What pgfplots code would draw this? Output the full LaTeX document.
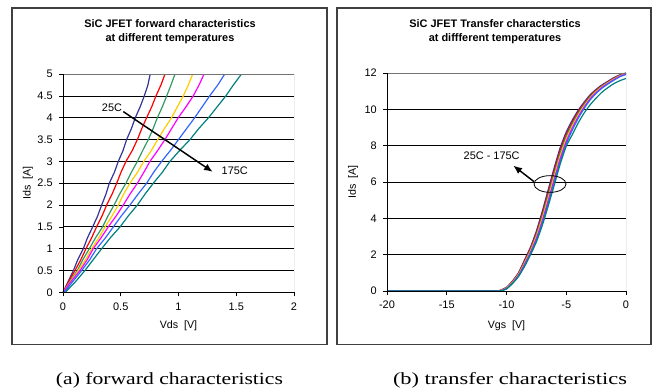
\documentclass[border=0pt]{standalone}
\usepackage{pgfplots}
\pgfplotsset{compat=1.18}
\usepackage{pgfplotstable}
\usepackage{graphicx}
\usepackage{fontspec}
\setmainfont{Liberation Sans}
\newfontfamily\serifcap{Liberation Serif}
\usetikzlibrary{arrows.meta}

\definecolor{cnavy}{RGB}{51,51,153}
\definecolor{cred}{RGB}{255,0,0}
\definecolor{cgreen}{RGB}{51,153,102}
\definecolor{cgold}{RGB}{255,204,0}
\definecolor{cmag}{RGB}{255,0,255}
\definecolor{cblue}{RGB}{51,102,255}
\definecolor{cteal}{RGB}{0,128,128}

\pgfplotstableread{
I    v0    v1    v2    v3    v4    v5    v6
0    0     0     0     0     0     0.01  0.02
0.25 0.045 0.05  0.06  0.065 0.07  0.085 0.11
0.5  0.09  0.104 0.124 0.133 0.147 0.162 0.19
0.75 0.128 0.155 0.172 0.195 0.21  0.232 0.262
1    0.176 0.199 0.228 0.248 0.262 0.291 0.335
1.25 0.212 0.248 0.282 0.31  0.33  0.368 0.41
1.5  0.257 0.291 0.343 0.364 0.392 0.436 0.494
1.75 0.3   0.338 0.39  0.425 0.46  0.505 0.565
2    0.335 0.378 0.442 0.479 0.522 0.58  0.644
2.25 0.372 0.425 0.49  0.525 0.58  0.65  0.71
2.5  0.401 0.465 0.545 0.58  0.644 0.724 0.782
2.75 0.445 0.502 0.592 0.645 0.7   0.785 0.86
3    0.479 0.545 0.644 0.70  0.753 0.854 0.926
3.25 0.52  0.6   0.69  0.765 0.82  0.93  1.01
3.5  0.551 0.644 0.739 0.82  0.883 1.0   1.1
3.75 0.592 0.682 0.78  0.878 0.94  1.07  1.175
4    0.626 0.724 0.817 0.94  0.998 1.14  1.26
4.25 0.668 0.768 0.86  0.99  1.065 1.205 1.335
4.5  0.704 0.805 0.898 1.042 1.128 1.27  1.41
4.75 0.735 0.848 0.935 1.085 1.178 1.34  1.475
5    0.755 0.883 0.97  1.123 1.221 1.40  1.545
}\fwd

\pgfplotstableread{
V     i0    i1    i2    i3    i4    i5    i6
-20   0     0     0     0     0     0     0
-11   0     0     0     0     0     0     0
-10.5 0.05  0.04  0.03  0.02  0.01  0     0
-10   0.2   0.19  0.17  0.16  0.14  0.13  0.11
-9.5  0.55  0.53  0.50  0.48  0.45  0.43  0.41
-9    1.0   0.97  0.93  0.90  0.86  0.83  0.79
-8.5  1.7   1.64  1.58  1.52  1.46  1.40  1.34
-8    2.4   2.33  2.26  2.19  2.12  2.05  1.98
-7.5  3.3   3.2   3.1   3.0   2.9   2.8   2.7
-7    4.4   4.27  4.14  4.01  3.88  3.75  3.62
-6.5  5.6   5.45  5.3   5.15  5.0   4.85  4.7
-6    6.8   6.64  6.48  6.32  6.16  6.0   5.84
-5.5  7.9   7.75  7.6   7.45  7.3   7.15  7.0
-5    8.75  8.62  8.49  8.36  8.23  8.1   7.97
-4.5  9.4   9.29  9.18  9.07  8.96  8.85  8.6
-4    9.95  9.86  9.77  9.68  9.59  9.5   9.25
-3.5  10.4  10.33 10.26 10.19 10.12 10.05 9.8
-3    10.8  10.74 10.69 10.63 10.58 10.52 10.25
-2.5  11.1  11.06 11.01 10.97 10.92 10.88 10.62
-2    11.35 11.31 11.28 11.24 11.21 11.17 10.95
-1.5  11.55 11.52 11.49 11.46 11.43 11.4  11.2
-1    11.75 11.72 11.69 11.67 11.64 11.61 11.42
-0.5  11.9  11.88 11.86 11.84 11.82 11.8  11.58
0     12.0  11.98 11.97 11.95 11.94 11.92 11.7
}\trf

\pgfplotsset{
  chart/.style={
    scale only axis,
    axis line style={draw=none},
    tick align=outside,
    xtick pos=bottom, ytick pos=left,
    major tick length=3pt,
    tick style={black, line width=0.5pt},
    ymajorgrids,
    grid style={black, line width=0.55pt},
    ticklabel style={font=\fontsize{8.2}{10}\selectfont},
    label style={font=\fontsize{8}{10}\selectfont},
    /pgf/number format/assume math mode=true,
    yticklabel style={xshift=-1.2pt},
    xticklabel style={yshift=-1.2pt},
    every axis plot/.append style={line width=0.9pt, no markers},
  }
}

\begin{document}
\begin{tikzpicture}
\path[use as bounding box] (0,0) rectangle (492pt,291.75pt);
% panel frames
\draw[black!75, line width=1.2pt] (8.8pt,33.5pt) rectangle (245.25pt,285.75pt);
\draw[black!75, line width=1.2pt] (252.75pt,33.5pt) rectangle (488.25pt,285.75pt);

% titles
\node[align=center, font=\bfseries\fontsize{8.2}{10.5}\selectfont] at (127.5pt,267.75pt)
  {SiC JFET forward characteristics\\at different temperatures};
\node[align=center, font=\bfseries\fontsize{8.2}{10.5}\selectfont] at (371.25pt,268pt)
  {SiC JFET Transfer characterstics\\at diffferent temperatures};

% left axis
\begin{axis}[chart,
  at={(47.25pt,72.5pt)}, anchor=south west,
  width=173.25pt, height=163.7pt,
  xmin=0, xmax=2, ymin=0, ymax=5,
  xtick={0,0.5,1,1.5,2}, ytick={0,0.5,1,1.5,2,2.5,3,3.5,4,4.5,5},
  xlabel={Vds\ \ [V]}, ylabel={Ids\ \ [A]},
  xlabel style={at={(axis description cs:0.5,-0.151)}, anchor=center},
  ylabel style={at={(axis description cs:-0.152,0.5)}, anchor=center},
]
\addplot[cnavy]  table[x=v0,y=I]{\fwd};
\addplot[cred]   table[x=v1,y=I]{\fwd};
\addplot[cgreen] table[x=v2,y=I]{\fwd};
\addplot[cgold]  table[x=v3,y=I]{\fwd};
\addplot[cmag]   table[x=v4,y=I]{\fwd};
\addplot[cblue]  table[x=v5,y=I]{\fwd};
\addplot[cteal]  table[x=v6,y=I]{\fwd};
\draw[black!55, line width=0.6pt] (rel axis cs:0,1) -- (rel axis cs:1,1) -- (rel axis cs:1,0);
\draw[black, line width=0.6pt] (rel axis cs:0,1) -- (rel axis cs:0,0) -- (rel axis cs:1,0);
\draw[black, line width=1.1pt, -{Latex[length=6.5pt,width=5.5pt]}] (axis cs:0.522,4.14) -- (axis cs:1.296,2.76);
\node[anchor=east, font=\fontsize{8.2}{10}\selectfont, inner sep=1pt] at (axis cs:0.525,4.24) {25C};
\node[anchor=west, font=\fontsize{8.2}{10}\selectfont, inner sep=1pt] at (axis cs:1.36,2.785) {175C};
\end{axis}

% right axis
\begin{axis}[chart,
  at={(290.25pt,73.5pt)}, anchor=south west,
  width=179.25pt, height=163.5pt,
  xmin=-20, xmax=0, ymin=0, ymax=12,
  xtick={-20,-15,-10,-5,0}, ytick={0,2,4,6,8,10,12},
  xlabel={Vgs\ \ [V]}, ylabel={Ids\ \ [A]},
  xlabel style={at={(axis description cs:0.5,-0.16)}, anchor=center},
  ylabel style={at={(axis description cs:-0.142,0.5)}, anchor=center},
  every axis plot/.append style={smooth, tension=0.35},
]
\addplot[cnavy]  table[x=V,y=i0]{\trf};
\addplot[cred]   table[x=V,y=i1]{\trf};
\addplot[cgreen] table[x=V,y=i2]{\trf};
\addplot[cgold]  table[x=V,y=i3]{\trf};
\addplot[cmag]   table[x=V,y=i4]{\trf};
\addplot[cblue]  table[x=V,y=i5]{\trf};
\addplot[cteal]  table[x=V,y=i6]{\trf};
\draw[black!55, line width=0.6pt] (rel axis cs:0,1) -- (rel axis cs:1,1) -- (rel axis cs:1,0);
\draw[black, line width=0.6pt] (rel axis cs:0,1) -- (rel axis cs:0,0) -- (rel axis cs:1,0);
\draw[black, line width=0.6pt] (axis cs:-6.36,5.89) ellipse [x radius=1.34, y radius=0.46];
\draw[black, line width=1.1pt, -{Latex[length=6.5pt,width=5.5pt]}] (axis cs:-7.7,6.02) -- (axis cs:-9.43,6.9);
\node[font=\fontsize{8.2}{10}\selectfont, inner sep=1pt] at (axis cs:-11.24,7.45) {25C - 175C};
\end{axis}

% captions
\node[anchor=base] at (127.1pt,3.75pt)
  {\resizebox{170.25pt}{\height}{\serifcap\fontsize{12.8}{14}\selectfont (a) forward characteristics}};
\node[anchor=base] at (382.5pt,3.75pt)
  {\resizebox{175.5pt}{\height}{\serifcap\fontsize{12.8}{14}\selectfont (b) transfer characteristics}};
\end{tikzpicture}
\end{document}
